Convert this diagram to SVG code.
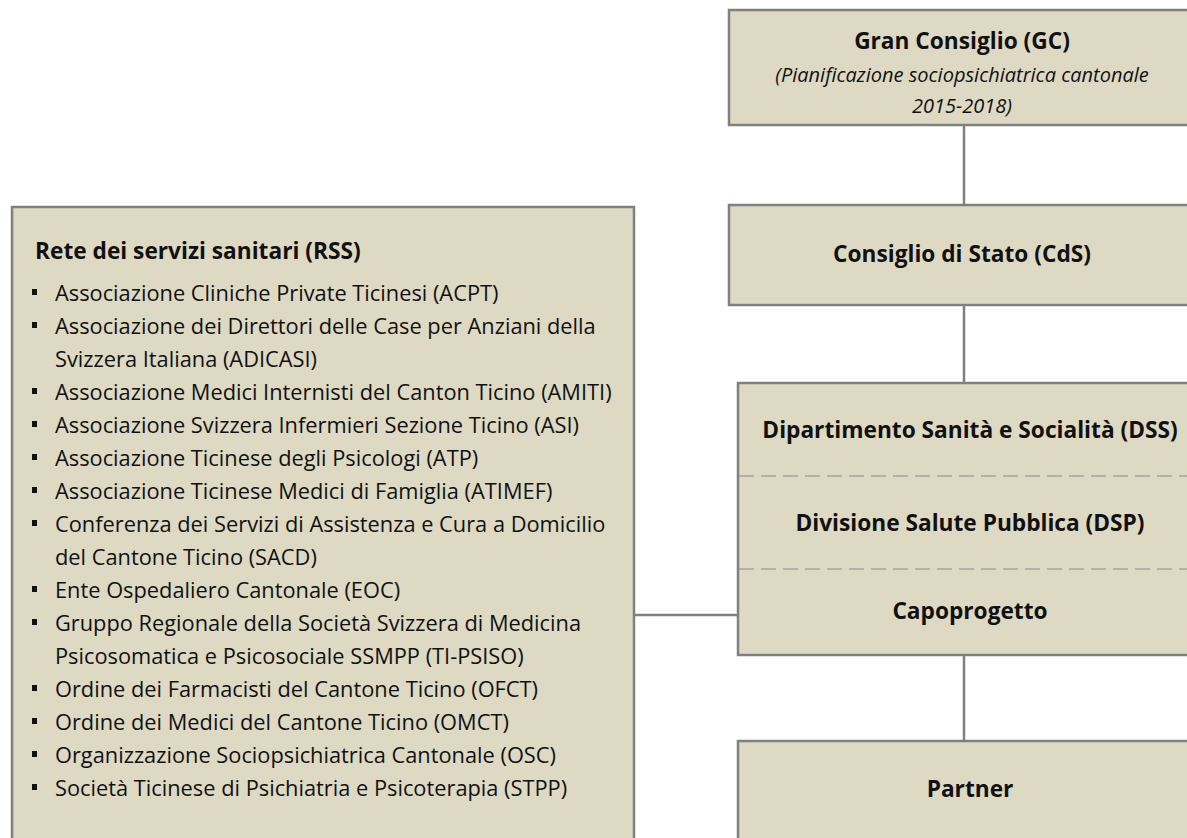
<svg xmlns="http://www.w3.org/2000/svg" width="1187" height="838" viewBox="0 0 1187 838">
<style>
.box{fill:#DDD9C3;stroke:#808080;stroke-width:2.5}
.conn{stroke:#808080;stroke-width:2.5;fill:none}
.dash{stroke:#8c8c8c;stroke-width:1.2;stroke-dasharray:15 7;fill:none}
.h{font-family:"Open Sans",Lato,sans-serif;font-weight:bold;font-size:22.7px;fill:#111;text-anchor:middle}
.it{font-family:"Open Sans",Lato,sans-serif;font-style:italic;font-size:20px;fill:#111;text-anchor:middle}
.t{font-family:"Open Sans",Lato,sans-serif;font-weight:bold;font-size:22.7px;fill:#111}
.li{font-family:"Open Sans",Lato,sans-serif;font-size:21.8px;fill:#111}
.b{fill:#111}
</style>
<rect width="1187" height="838" fill="#fff"/>
<g id="connectors">
<line class="conn" x1="964" y1="125" x2="964" y2="205"/>
<line class="conn" x1="964" y1="305" x2="964" y2="383"/>
<line class="conn" x1="964" y1="655" x2="964" y2="741"/>
<line class="conn" x1="634" y1="615" x2="738" y2="615"/>
</g>
<g id="gc">
<rect class="box" x="729" y="10" width="480" height="115"/>
<text class="h" x="962" y="49">Gran Consiglio (GC)</text>
<text class="it" x="962" y="82">(Pianificazione sociopsichiatrica cantonale</text>
<text class="it" x="962" y="113">2015-2018)</text>
</g>
<g id="cds">
<rect class="box" x="729" y="205" width="480" height="100"/>
<text class="h" x="962" y="262">Consiglio di Stato (CdS)</text>
</g>
<g id="dss">
<rect class="box" x="738" y="383" width="480" height="272"/>
<line class="dash" x1="739" y1="476" x2="1187" y2="476"/>
<line class="dash" x1="739" y1="569" x2="1187" y2="569"/>
<text class="h" x="970" y="438">Dipartimento Sanità e Socialità (DSS)</text>
<text class="h" x="970" y="531">Divisione Salute Pubblica (DSP)</text>
<text class="h" x="970" y="619">Capoprogetto</text>
</g>
<g id="partner">
<rect class="box" x="738" y="741" width="480" height="120"/>
<text class="h" x="970" y="797">Partner</text>
</g>
<g id="rss">
<rect class="box" x="12" y="207" width="622" height="650"/>
<text class="t" x="35" y="259">Rete dei servizi sanitari (RSS)</text>
<g class="b">
<rect x="32" y="289" width="5" height="6"/>
<rect x="32" y="322" width="5" height="6"/>
<rect x="32" y="388" width="5" height="6"/>
<rect x="32" y="421" width="5" height="6"/>
<rect x="32" y="454" width="5" height="6"/>
<rect x="32" y="487" width="5" height="6"/>
<rect x="32" y="520" width="5" height="6"/>
<rect x="32" y="586" width="5" height="6"/>
<rect x="32" y="619" width="5" height="6"/>
<rect x="32" y="685" width="5" height="6"/>
<rect x="32" y="718" width="5" height="6"/>
<rect x="32" y="751" width="5" height="6"/>
<rect x="32" y="784" width="5" height="6"/>
</g>
<text class="li" x="55" y="301">Associazione Cliniche Private Ticinesi (ACPT)</text>
<text class="li" x="55" y="334">Associazione dei Direttori delle Case per Anziani della</text>
<text class="li" x="55" y="367">Svizzera Italiana (ADICASI)</text>
<text class="li" x="55" y="400">Associazione Medici Internisti del Canton Ticino (AMITI)</text>
<text class="li" x="55" y="433">Associazione Svizzera Infermieri Sezione Ticino (ASI)</text>
<text class="li" x="55" y="466">Associazione Ticinese degli Psicologi (ATP)</text>
<text class="li" x="55" y="499">Associazione Ticinese Medici di Famiglia (ATIMEF)</text>
<text class="li" x="55" y="532">Conferenza dei Servizi di Assistenza e Cura a Domicilio</text>
<text class="li" x="55" y="565">del Cantone Ticino (SACD)</text>
<text class="li" x="55" y="598">Ente Ospedaliero Cantonale (EOC)</text>
<text class="li" x="55" y="631">Gruppo Regionale della Società Svizzera di Medicina</text>
<text class="li" x="55" y="664">Psicosomatica e Psicosociale SSMPP (TI-PSISO)</text>
<text class="li" x="55" y="697">Ordine dei Farmacisti del Cantone Ticino (OFCT)</text>
<text class="li" x="55" y="730">Ordine dei Medici del Cantone Ticino (OMCT)</text>
<text class="li" x="55" y="763">Organizzazione Sociopsichiatrica Cantonale (OSC)</text>
<text class="li" x="55" y="796">Società Ticinese di Psichiatria e Psicoterapia (STPP)</text>
</g>
</svg>
